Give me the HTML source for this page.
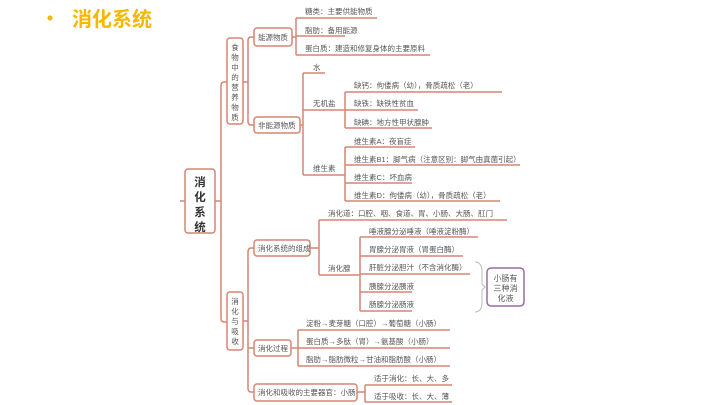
<!DOCTYPE html>
<html><head><meta charset="utf-8"><style>
html,body{margin:0;padding:0;background:#fff;}
svg{display:block;}
text{font-family:"Liberation Sans","Noto Sans CJK SC",sans-serif;fill:#555;font-size:7.5px;}
text.big{font-size:11.5px;font-weight:bold;fill:#333;}
text.sm{font-size:8px;}
</style></head><body>
<svg width="720" height="405" viewBox="0 0 720 405">
<circle cx="50" cy="18" r="2.5" fill="#f5b800"/>
<text x="72" y="26" style="font-size:20px;font-weight:bold;fill:#f5b800">消化系统</text>
<g fill="none" stroke="#d68575" stroke-width="1.5">
<line x1="180" y1="201" x2="185" y2="201"/>
<rect x="185" y="169" width="30" height="64" rx="3"/>
<line x1="215" y1="201" x2="221" y2="201"/>
<path d="M227 82 H224 Q221 82 221 86 V318 Q221 322 224 322 H227"/>
<rect x="227" y="38" width="16" height="86" rx="3"/>
<rect x="227" y="292" width="16" height="58" rx="3"/>
<line x1="243" y1="82" x2="248" y2="82"/>
<path d="M254 37 H251 Q248 37 248 41 V121 Q248 125 251 125 H254"/>
<rect x="254" y="28" width="38" height="18" rx="3"/>
<rect x="254" y="117" width="46" height="16" rx="3"/>
<path d="M292 37 H296"/>
<path d="M296 18 V55"/>
<path d="M296 18 H377 M296 36 H345 M296 55 H430"/>
<path d="M300 125 H303 M303 73 V175"/>
<path d="M303 73 H325 M303 110 H345 M303 175 H345"/>
<path d="M345 92 V128 M345 92 H502 M345 110 H418 M345 128 H432"/>
<path d="M345 147 V201 M345 147 H415 M345 165 H520 M345 183 H412 M345 201 H500"/>
<line x1="243" y1="321" x2="248" y2="321"/>
<path d="M254 248 H251 Q248 248 248 252 V388 Q248 392 251 392 H254"/>
<line x1="248" y1="348" x2="254" y2="348"/>
<rect x="254" y="240" width="56" height="16" rx="3"/>
<rect x="254" y="340" width="37" height="16" rx="3"/>
<rect x="254" y="384" width="103" height="17" rx="3"/>
<path d="M310 248 H319 M319 220 V275 M319 220 H507 M319 275 H360"/>
<path d="M360 237 V311 M360 237 H478 M360 256 H463 M360 274 H470 M360 292 H412 M360 311 H412"/>
<path d="M291 348 H298 M298 330 V366 M298 330 H450 M298 348 H450 M298 366 H450"/>
<path d="M357 392 H365 M365 385 V402 M365 385 H452 M365 402 H452"/>
</g>
<path d="M475 262 Q482 262 482 272 V284 L485 287 L482 290 V302 Q482 312 475 312" fill="none" stroke="#bbb" stroke-width="1"/>
<rect x="487" y="268" width="37" height="38" rx="4" fill="none" stroke="#9a6aa8" stroke-width="1.5"/>
<text class="sm" x="505.5" y="281" text-anchor="middle">小肠有</text>
<text class="sm" x="505.5" y="291" text-anchor="middle">三种消</text>
<text class="sm" x="505.5" y="301" text-anchor="middle">化液</text>
<text class="big" x="200" y="186" text-anchor="middle">消</text>
<text class="big" x="200" y="201" text-anchor="middle">化</text>
<text class="big" x="200" y="216" text-anchor="middle">系</text>
<text class="big" x="200" y="231" text-anchor="middle">统</text>
<g text-anchor="middle">
<text x="235" y="50">食</text><text x="235" y="60">物</text><text x="235" y="70">中</text><text x="235" y="80">的</text><text x="235" y="90">营</text><text x="235" y="100">养</text><text x="235" y="110">物</text><text x="235" y="120">质</text>
<text x="235" y="304">消</text><text x="235" y="314">化</text><text x="235" y="324">与</text><text x="235" y="334">吸</text><text x="235" y="344">收</text>
</g>
<text x="258" y="40">能源物质</text>
<text x="258" y="128">非能源物质</text>
<text x="305" y="14">糖类：主要供能物质</text>
<text x="305" y="33">脂肪：备用能源</text>
<text x="305" y="51">蛋白质：建造和修复身体的主要原料</text>
<text x="313" y="70">水</text>
<text x="313" y="106">无机盐</text>
<text x="313" y="171">维生素</text>
<text x="354" y="88">缺钙：佝偻病（幼），骨质疏松（老）</text>
<text x="354" y="106">缺铁：缺铁性贫血</text>
<text x="354" y="125">缺碘：地方性甲状腺肿</text>
<text x="354" y="144">维生素A：夜盲症</text>
<text x="354" y="162">维生素B1：脚气病（注意区别：脚气由真菌引起）</text>
<text x="354" y="180">维生素C：坏血病</text>
<text x="354" y="198">维生素D：佝偻病（幼），骨质疏松（老）</text>
<text x="258" y="251">消化系统的组成</text>
<text x="328" y="216">消化道：口腔、咽、食道、胃、小肠、大肠、肛门</text>
<text x="328" y="271">消化腺</text>
<text x="369" y="234">唾液腺分泌唾液（唾液淀粉酶）</text>
<text x="369" y="252">胃腺分泌胃液（胃蛋白酶）</text>
<text x="369" y="270">肝脏分泌胆汁（不含消化酶）</text>
<text x="369" y="289">胰腺分泌胰液</text>
<text x="369" y="307">肠腺分泌肠液</text>
<text x="258" y="351">消化过程</text>
<text x="306" y="326">淀粉→麦芽糖（口腔）→葡萄糖（小肠）</text>
<text x="306" y="344">蛋白质→多肽（胃）→氨基酸（小肠）</text>
<text x="306" y="362">脂肪→脂肪微粒→甘油和脂肪酸（小肠）</text>
<text x="258" y="395">消化和吸收的主要器官：小肠</text>
<text x="374" y="381">适于消化：长、大、多</text>
<text x="374" y="399">适于吸收：长、大、薄</text>
</svg>
</body></html>
